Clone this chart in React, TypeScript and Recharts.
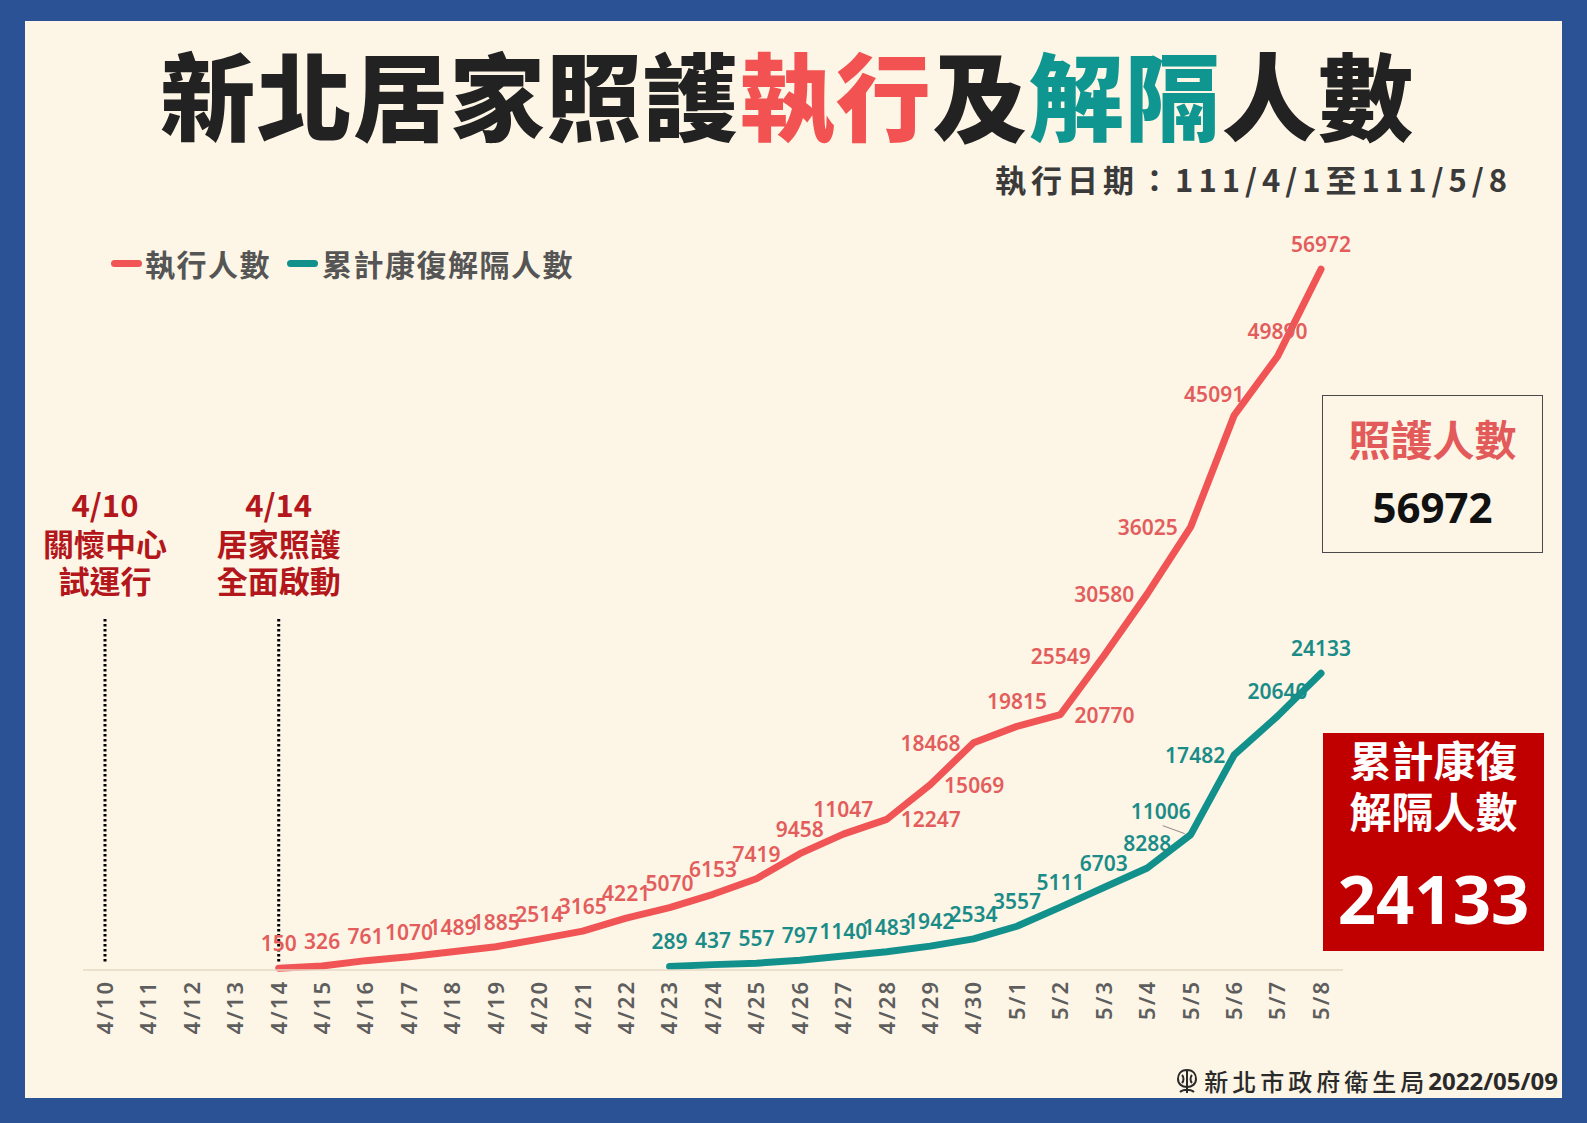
import { LineChart, Line, XAxis, YAxis, ReferenceLine, LabelList } from 'recharts'

const dates = [
  '4/10', '4/11', '4/12', '4/13', '4/14', '4/15', '4/16', '4/17', '4/18', '4/19',
  '4/20', '4/21', '4/22', '4/23', '4/24', '4/25', '4/26', '4/27', '4/28', '4/29',
  '4/30', '5/1', '5/2', '5/3', '5/4', '5/5', '5/6', '5/7', '5/8',
]

// 執行人數
const careCounts: (number | null)[] = [
  null, null, null, null, 150, 326, 761, 1070, 1489, 1885,
  2514, 3165, 4221, 5070, 6153, 7419, 9458, 11047, 12247, 15069,
  18468, 19815, 20770, 25549, 30580, 36025, 45091, 49890, 56972,
]

// 累計康復解隔人數
const releasedCounts: (number | null)[] = [
  null, null, null, null, null, null, null, null, null, null,
  null, null, null, 289, 437, 557, 797, 1140, 1483, 1942,
  2534, 3557, 5111, 6703, 8288, 11006, 17482, 20640, 24133,
]

const milestones = [
  { date: '4/10', lines: ['4/10', '關懷中心', '試運行'] },
  { date: '4/14', lines: ['4/14', '居家照護', '全面啟動'] },
]

const RED = '#f05454'
const RED_TEXT = '#e35d5d'
const TEAL = '#12918c'
const TEAL_TEXT = '#1a8c88'
const CREAM = '#fdf5e6'
const BLUE = '#2b5294'
const ANNO_RED = '#b3171c'
const FONT = '"Noto Sans", "Noto Sans CJK TC", sans-serif'
const CJK = '"Noto Sans CJK TC", "Noto Sans", sans-serif'

const data = dates.map((date, i) => ({
  date,
  care: careCounts[i],
  released: releasedCounts[i],
}))

type Place = 'up' | 'left' | 'right' | 'upLeft' | 'leader'

const carePlaces: Record<string, Place> = {
  '4/28': 'right', '4/29': 'right', '4/30': 'left', '5/2': 'right',
  '5/3': 'left', '5/4': 'left', '5/5': 'left', '5/6': 'upLeft',
}
const releasedPlaces: Record<string, Place> = {
  '5/5': 'leader', '5/6': 'left',
}

const makeLabel = (color: string, places: Record<string, Place>, leftShift: number) =>
  (props: any) => {
    const { x, y, value, index } = props
    if (value == null || x == null || y == null) return null
    const place = places[dates[index]] ?? 'up'
    let tx = x
    let ty = y - 25
    if (place === 'left') { tx = x - leftShift; ty = y }
    if (place === 'right') { tx = x + 44; ty = y }
    if (place === 'upLeft') { tx = x - 20; ty = y - 21 }
    if (place === 'leader') { tx = x - 30; ty = y - 24 }
    return (
      <g>
        {place === 'leader' && (
          <line x1={x - 28} y1={y - 9} x2={x - 6} y2={y - 1} stroke="#8a8a8a" strokeWidth={1} />
        )}
        <text
          x={tx}
          y={ty}
          textAnchor="middle"
          dominantBaseline="central"
          fill={color}
          fontSize={21}
          fontWeight={600}
          fontFamily={FONT}
        >
          {value}
        </text>
      </g>
    )
  }

const DateTick = ({ x, y, payload }: any) => (
  <g transform={`translate(${x},${y + 2}) rotate(-90)`}>
    <text
      x={0}
      y={0}
      dy="0.36em"
      textAnchor="end"
      fill="#5e5e5e"
      fontSize={22}
      fontWeight={600}
      letterSpacing={2}
      fontFamily={FONT}
    >
      {payload.value}
    </text>
  </g>
)

const MilestoneLabel = ({ viewBox, lines }: any) => {
  if (!viewBox) return null
  const cx = viewBox.x
  const top = viewBox.y
  const offs = [-113, -74, -37]
  return (
    <g>
      {lines.map((t: string, i: number) => (
        <text
          key={t}
          x={cx}
          y={top + offs[i]}
          textAnchor="middle"
          dominantBaseline="central"
          fill={ANNO_RED}
          fontSize={31}
          fontWeight={700}
          fontFamily={CJK}
        >
          {t}
        </text>
      ))}
    </g>
  )
}

const abs = (style: React.CSSProperties): React.CSSProperties => ({ position: 'absolute', ...style })

export default function App() {
  return (
    <div style={{ position: 'relative', width: 1587, height: 1123, background: BLUE, overflow: 'hidden' }}>
      <style>{'body{margin:0}'}</style>
      <div style={abs({ left: 25, top: 21, right: 25, bottom: 25, background: CREAM })} />

      <div
        style={abs({
          left: -6, top: 43, width: 1587, textAlign: 'center', fontFamily: CJK,
          fontSize: 95, fontWeight: 900, lineHeight: '100px', letterSpacing: 1.5, color: '#222',
        })}
      >
        新北居家照護<span style={{ color: '#f25252' }}>執行</span>及
        <span style={{ color: '#0f9690' }}>解隔</span>人數
      </div>

      <div
        style={abs({
          right: 75, top: 161, fontFamily: CJK, fontSize: 31, fontWeight: 700,
          lineHeight: '36px', letterSpacing: 5, color: '#3a3a3a',
        })}
      >
        執行日期：111/4/1至111/5/8
      </div>

      <div
        style={abs({
          left: 111, top: 244, display: 'flex', alignItems: 'center', fontFamily: CJK,
          fontSize: 30, fontWeight: 700, lineHeight: '38px', color: '#555', letterSpacing: 1.5,
        })}
      >
        <span style={{ width: 31, height: 7, borderRadius: 4, background: RED, marginRight: 3 }} />
        <span>執行人數</span>
        <span style={{ width: 31, height: 7, borderRadius: 4, background: TEAL, marginLeft: 16, marginRight: 4 }} />
        <span>累計康復解隔人數</span>
      </div>

      <div style={abs({ left: 0, top: 0 })}>
        <LineChart
          width={1587}
          height={1123}
          data={data}
          margin={{ top: 232, right: 244, bottom: 93, left: 83 }}
        >
          <XAxis
            dataKey="date"
            interval={0}
            height={60}
            padding={{ left: 22, right: 22 }}
            axisLine={{ stroke: '#e4d9c5', strokeWidth: 1.5 }}
            tickLine={false}
            tick={<DateTick />}
          />
          <YAxis hide domain={[0, 60000]} />
          {milestones.map(m => (
            <ReferenceLine
              key={m.date}
              segment={[{ x: m.date, y: 700 }, { x: m.date, y: 28700 }]}
              stroke="#000"
              strokeWidth={3}
              strokeDasharray="2.5 2.5"
              label={(p: any) => <MilestoneLabel viewBox={p.viewBox} lines={m.lines} />}
            />
          ))}
          <Line
            type="linear"
            dataKey="care"
            stroke={RED}
            strokeWidth={7}
            strokeLinecap="round"
            strokeLinejoin="round"
            dot={false}
            isAnimationActive={false}
          >
            <LabelList dataKey="care" content={makeLabel(RED_TEXT, carePlaces, 43)} />
          </Line>
          <Line
            type="linear"
            dataKey="released"
            stroke={TEAL}
            strokeWidth={7}
            strokeLinecap="round"
            strokeLinejoin="round"
            dot={false}
            isAnimationActive={false}
          >
            <LabelList dataKey="released" content={makeLabel(TEAL_TEXT, releasedPlaces, 39)} />
          </Line>
        </LineChart>
      </div>

      <div
        style={abs({
          left: 1322, top: 395, width: 219, height: 156, border: '1.5px solid #4a4a4a',
          fontFamily: CJK, textAlign: 'center',
        })}
      >
        <div style={abs({ left: 0, right: 0, top: 19, lineHeight: '46px', fontSize: 42, fontWeight: 700, color: '#e35a5a' })}>
          照護人數
        </div>
        <div style={abs({ left: 0, right: 0, top: 86, lineHeight: '50px', fontSize: 42, fontWeight: 700, color: '#111', fontFamily: FONT })}>
          56972
        </div>
      </div>

      <div
        style={abs({
          left: 1323, top: 733, width: 221, height: 218, background: '#c00000',
          fontFamily: CJK, textAlign: 'center', color: '#fff',
        })}
      >
        <div style={abs({ left: 0, right: 0, top: 3, lineHeight: '46px', fontSize: 42, fontWeight: 700 })}>
          累計康復
        </div>
        <div style={abs({ left: 0, right: 0, top: 54, lineHeight: '46px', fontSize: 42, fontWeight: 700 })}>
          解隔人數
        </div>
        <div style={abs({ left: 0, right: 0, top: 129, lineHeight: '72px', fontSize: 67, fontWeight: 700, fontFamily: FONT })}>
          24133
        </div>
      </div>

      <div
        style={abs({
          right: 29, top: 1066, display: 'flex', alignItems: 'center', fontFamily: CJK,
          fontSize: 24, lineHeight: '30px', color: '#2a2a2a',
        })}
      >
        <svg width={24} height={28} viewBox="0 0 24 28" style={{ marginRight: 5 }}>
          <path d="M12 3 C5 3 3 8 3 12 C3 17 7 20 12 20 C17 20 21 17 21 12 C21 8 19 3 12 3 Z" fill="none" stroke="#2a2a2a" strokeWidth={2} />
          <path d="M12 4 V26 M7 8 C9 10 9 14 7 16 M17 8 C15 10 15 14 17 16 M5 25 C8 22 16 22 19 25" fill="none" stroke="#2a2a2a" strokeWidth={2} />
        </svg>
        <span style={{ fontWeight: 500, letterSpacing: 4 }}>新北市政府衛生局</span>
        <span style={{ fontWeight: 700, fontFamily: FONT, marginLeft: 0 }}>2022/05/09</span>
      </div>
    </div>
  )
}
